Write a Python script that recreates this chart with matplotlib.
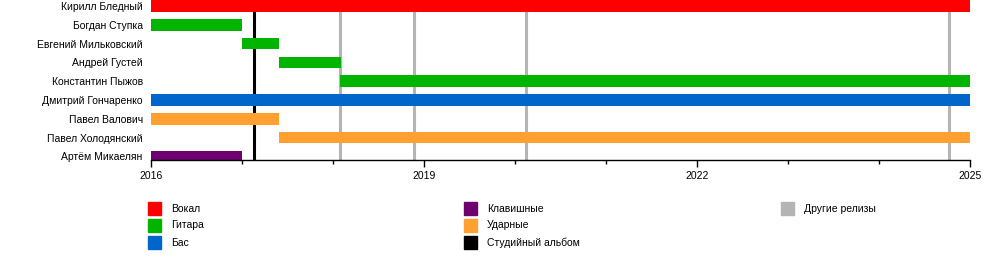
import matplotlib
matplotlib.use('Agg')
import matplotlib.pyplot as plt
from matplotlib.patches import Rectangle

plt.rcParams['font.family'] = ['Liberation Sans', 'DejaVu Sans']

# участники группы и их роли (годы в долях года)
members = ['Кирилл Бледный', 'Богдан Ступка', 'Евгений Мильковский', 'Андрей Густей',
           'Константин Пыжов', 'Дмитрий Гончаренко', 'Павел Валович',
           'Павел Холодянский', 'Артём Микаелян']
roles = ['Вокал', 'Гитара', 'Гитара', 'Гитара', 'Гитара', 'Бас', 'Ударные', 'Ударные', 'Клавишные']
start = [2016.0, 2016.0, 2017.0, 2017.41, 2018.08, 2016.0, 2016.0, 2017.41, 2016.0]
end = [2025.0, 2017.0, 2017.41, 2018.09, 2025.0, 2025.0, 2017.41, 2025.0, 2017.0]

albums = [2017.13]                              # студийные альбомы
others = [2018.08, 2018.89, 2020.12, 2024.77]   # другие релизы

role_colors = {'Вокал': '#ff0000', 'Гитара': '#00b400', 'Бас': '#0066cc',
               'Клавишные': '#6e0070', 'Ударные': '#ffa030',
               'Студийный альбом': '#000000', 'Другие релизы': '#b4b4b4'}
legend_cols = [['Вокал', 'Гитара', 'Бас'],
               ['Клавишные', 'Ударные', 'Студийный альбом'],
               ['Другие релизы']]

fig = plt.figure(figsize=(10, 2.7), dpi=100)
ax = fig.add_axes([0.151, 1 - 160 / 270, 0.819, 160 / 270])

rows = list(range(len(members)))
for i in rows:
    ax.barh(i, end[i] - start[i], left=start[i], height=0.61,
            color=role_colors[roles[i]], zorder=2)

# вертикальные линии релизов (под полосами)
top_frac = 1 - (0.305 + 0.319) / (8.19 + 0.319)
for x in others:
    ax.axvline(x, ymin=0, ymax=top_frac, color=role_colors['Другие релизы'], lw=2.2, zorder=1)
for x in albums:
    ax.axvline(x, ymin=0, ymax=top_frac, color='black', lw=2.2, zorder=1)

ax.set_xlim(2016, 2025)
ax.set_ylim(8.19, -0.319)
ax.set_yticks(rows)
ax.set_yticklabels(members, fontsize=7.5)
ax.tick_params(axis='y', length=0, pad=6)
ax.set_xticks([2016, 2019, 2022, 2025])
ax.set_xticks(range(2016, 2026), minor=True)
ax.tick_params(axis='x', which='major', length=5, width=1, labelsize=7.5, pad=3)
ax.tick_params(axis='x', which='minor', length=3, width=1)
for s in ['top', 'right', 'left']:
    ax.spines[s].set_visible(False)
ax.spines['bottom'].set_linewidth(1)
ax.spines['bottom'].set_zorder(3)

# легенда в три колонки
col_x = [148, 464, 781]
row_y = [208.5, 225.5, 242.5]
for c, names in enumerate(legend_cols):
    for r, name in enumerate(names):
        x0 = col_x[c] / 1000
        y0 = 1 - (row_y[r] + 6.5) / 270
        fig.add_artist(Rectangle((x0, y0), 13 / 1000, 13 / 270,
                                 transform=fig.transFigure, color=role_colors[name]))
        fig.text(x0 + 23 / 1000, 1 - row_y[r] / 270, name, fontsize=7.5, va='center')

plt.savefig('out.png', dpi=100)
